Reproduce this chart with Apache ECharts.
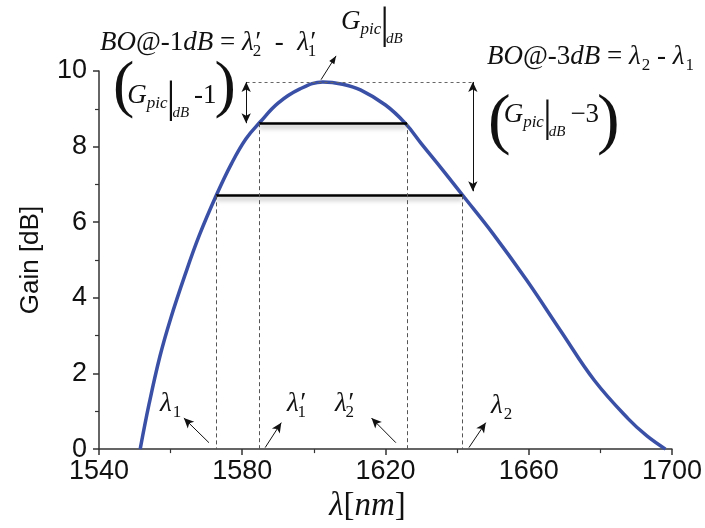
<!DOCTYPE html>
<html>
<head>
<meta charset="utf-8">
<script src="https://cdn.jsdelivr.net/npm/echarts@6/dist/echarts.min.js"></script>
<style>
  html, body { margin: 0; padding: 0; background: #fff; }
  #chart { width: 705px; height: 528px; }
</style>
</head>
<body>
<div id="chart"></div>
<script>
// gain curve (nm, dB)
const wavelength = [1551.5, 1554, 1557, 1560, 1564, 1568, 1572.7, 1577, 1581, 1585, 1590, 1596, 1602.5,
  1608, 1613, 1620, 1625.5, 1630, 1636, 1641.5, 1650, 1659.4, 1668.9, 1678.3, 1687.8, 1693, 1698.2];
const gainDb = [0, 1.2, 2.45, 3.45, 4.6, 5.65, 6.7, 7.55, 8.2, 8.65, 9.15, 9.52, 9.71,
  9.65, 9.5, 9.1, 8.62, 8.08, 7.38, 6.72, 5.7, 4.47, 3.13, 1.82, 0.8, 0.35, 0];

const xRange = [1540, 1700];
const yRange = [0, 10];

// peak and band edges
const peak = [1602.5, 9.71];
const level1 = 8.62;              // -1 dB level
const level3 = 6.71;              // -3 dB level
const edges1 = [1584.7, 1626.0];  // lambda'1, lambda'2
const edges3 = [1572.7, 1641.5];  // lambda1, lambda2
const peakRefX = [1581.2, 1644.3];
const arrowX = [1581.1, 1644.4];
const arrow3End = 6.82;

// small pointer arrows near the axis: [x0, y0, x1, y1]
const pointers = [
  [1570.7, 0.17, 1563.7, 0.82],
  [1586.4, 0.04, 1590.9, 0.70],
  [1622.9, 0.17, 1616.1, 0.82],
  [1643.3, 0.04, 1648.0, 0.70]
];
// pointer from the peak to the G_pic label (goes above the plot)
const peakPointer = [1602.0, 9.77, 1606.2, 10.4];

const SERIF = '"Liberation Serif", "DejaVu Serif", serif';
const SANS = '"Liberation Sans", Arial, sans-serif';
const LH = 80;

const rich = {
  i: { fontFamily: SERIF, fontStyle: 'italic', fontSize: 27, lineHeight: LH },
  u: { fontFamily: SERIF, fontSize: 27, lineHeight: LH },
  k: { fontFamily: SERIF, fontSize: 27, lineHeight: LH, padding: [0, 0, 0, 5] },
  s: { fontFamily: SERIF, fontSize: 17, lineHeight: LH, padding: [18, 0, 0, 1] },
  sp: { fontFamily: SERIF, fontSize: 17, lineHeight: LH, padding: [18, 0, 0, -7] },
  pic: { fontFamily: SERIF, fontStyle: 'italic', fontSize: 17, lineHeight: LH, padding: [16, 0, 0, 0] },
  bar: { fontFamily: SERIF, fontSize: 44, lineHeight: LH, padding: [8, -2, 0, -1] },
  db: { fontFamily: SERIF, fontStyle: 'italic', fontSize: 15, lineHeight: LH, padding: [34, 0, 0, -1] },
  par: { fontFamily: SERIF, fontSize: 64, lineHeight: LH, color: '#333', padding: [0, -7, 16, -2] },
  par2: { fontFamily: SERIF, fontSize: 68, lineHeight: LH, color: '#333', padding: [16, -7, 0, -2] }
};

function label(x, y, text) {
  return {
    type: 'text', x: x, y: y, silent: true,
    style: { text: text, rich: rich, fill: '#111', align: 'left', verticalAlign: 'middle',
      fontFamily: SERIF, fontSize: 27 }
  };
}

function seg(a, b, style, sym) {
  return [
    { coord: a, symbol: sym ? sym[0] : 'none', lineStyle: style },
    { coord: b, symbol: sym ? sym[1] : 'none' }
  ];
}

const dotted = { color: '#666', width: 1, type: [3, 3] };
const dashed = { color: '#555', width: 1, type: [4, 3] };
const solid = { color: '#111', width: 1, type: 'solid' };
const bar = { color: '#000', width: 2.5, type: 'solid', shadowColor: 'rgba(0,0,0,0.35)', shadowBlur: 5, shadowOffsetY: 3 };

const markData = [
  seg([peakRefX[0], peak[1]], [peakRefX[1], peak[1]], dotted),
  seg([arrowX[0], peak[1]], [arrowX[0], level1], solid, ['arrow', 'arrow']),
  seg([arrowX[1], peak[1]], [arrowX[1], arrow3End], solid, ['arrow', 'arrow']),
  seg([edges1[0], level1], [edges1[1], level1], bar),
  seg([edges3[0], level3], [edges3[1], level3], bar),
  seg([edges1[0], level1], [edges1[0], 0], dashed),
  seg([edges1[1], level1], [edges1[1], 0], dashed),
  seg([edges3[0], level3], [edges3[0], 0], dashed),
  seg([edges3[1], level3], [edges3[1], 0], dashed)
].concat(pointers.map(function (p) {
  return seg([p[0], p[1]], [p[2], p[3]], solid, ['none', 'arrow']);
}));

const chart = echarts.init(document.getElementById('chart'));
chart.setOption({
  animation: false,
  backgroundColor: '#fff',
  grid: { left: 99, right: 31, top: 71, bottom: 76 },
  xAxis: {
    type: 'value', min: xRange[0], max: xRange[1], interval: 40,
    axisLine: { show: true, onZero: false, lineStyle: { color: '#333', width: 1.5 } },
    axisTick: { show: true, length: 6, lineStyle: { color: '#333', width: 1.5 } },
    minorTick: { show: true, splitNumber: 2, length: 4, lineStyle: { color: '#333', width: 1.2 } },
    splitLine: { show: false },
    axisLabel: { fontFamily: SANS, fontSize: 27, color: '#111', margin: 9,
      formatter: function (v) { return String(v); } },
    name: '{i|λ}{u|[}{i|nm}{u|]}',
    nameLocation: 'middle', nameGap: 36,
    nameTextStyle: {
      padding: [0, 36, 0, 0],
      rich: {
        i: { fontFamily: SERIF, fontStyle: 'italic', fontSize: 33, color: '#111' },
        u: { fontFamily: SERIF, fontSize: 33, color: '#111' }
      }
    }
  },
  yAxis: {
    type: 'value', min: yRange[0], max: yRange[1], interval: 2,
    axisLine: { show: true, onZero: false, lineStyle: { color: '#333', width: 1.5 } },
    axisTick: { show: true, length: 6, lineStyle: { color: '#333', width: 1.5 } },
    minorTick: { show: true, splitNumber: 2, length: 4, lineStyle: { color: '#333', width: 1.2 } },
    splitLine: { show: false },
    axisLabel: { fontFamily: SANS, fontSize: 27, color: '#111', margin: 12 },
    name: 'Gain [dB]', nameLocation: 'middle', nameGap: 55, nameRotate: 90,
    nameTextStyle: { fontFamily: SANS, fontSize: 26, color: '#111' }
  },
  series: [{
    type: 'line',
    data: wavelength.map(function (w, i) { return [w, gainDb[i]]; }),
    smooth: 0.4,
    showSymbol: false,
    clip: false,
    lineStyle: { color: '#3A50A6', width: 3.5 },
    z: 3,
    markLine: {
      silent: true,
      symbol: ['none', 'none'],
      symbolSize: [7, 10],
      label: { show: false },
      emphasis: { disabled: true },
      data: markData
    }
  }]
});

// texts and the peak pointer
const p0 = chart.convertToPixel({ gridIndex: 0 }, [peakPointer[0], peakPointer[1]]);
const p1 = chart.convertToPixel({ gridIndex: 0 }, [peakPointer[2], peakPointer[3]]);
const ang = Math.atan2(p1[1] - p0[1], p1[0] - p0[0]);
const hl = 8, hw = 3;
const tip = [
  [p1[0], p1[1]],
  [p1[0] - hl * Math.cos(ang) + hw * Math.sin(ang), p1[1] - hl * Math.sin(ang) - hw * Math.cos(ang)],
  [p1[0] - hl * Math.cos(ang) - hw * Math.sin(ang), p1[1] - hl * Math.sin(ang) + hw * Math.cos(ang)]
];

chart.setOption({
  graphic: [
    { type: 'line', silent: true, shape: { x1: p0[0], y1: p0[1], x2: p1[0], y2: p1[1] },
      style: { stroke: '#111', lineWidth: 1 } },
    { type: 'polygon', silent: true, shape: { points: tip }, style: { fill: '#111' } },
    label(100, 43, '{i|BO}{u|@-1}{i|dB}{u| = }{i|λ′}{sp|2}{u|  -  }{i|λ′}{sp|1}'),
    label(115, 96, '{par|(}{i|G}{pic|pic}{bar||}{db|dB}{k|-1}{par|)}'),
    label(487, 57, '{i|BO}{u|@-3}{i|dB}{u| = }{i|λ}{s|2}{u| - }{i|λ}{s|1}'),
    label(490, 115, '{par2|(}{i|G}{pic|pic}{bar||}{db|dB}{k|−3}{par2|)}'),
    label(341, 22, '{i|G}{pic|pic}{bar||}{db|dB}'),
    label(160, 404, '{i|λ}{s|1}'),
    label(287, 404, '{i|λ′}{sp|1}'),
    label(335, 404, '{i|λ′}{sp|2}'),
    label(491, 406, '{i|λ}{s|2}')
  ]
});
</script>
</body>
</html>
